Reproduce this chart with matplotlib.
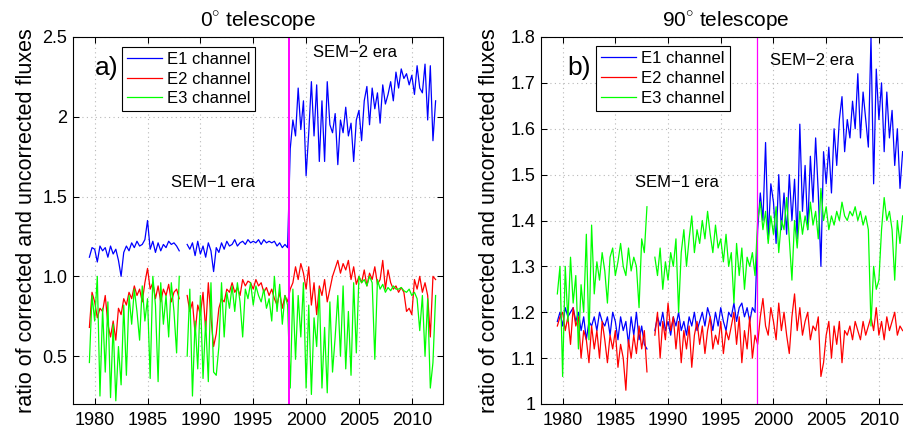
import numpy as np
import matplotlib
matplotlib.use('Agg')
import matplotlib.pyplot as plt

plt.rcParams['font.family'] = ['Liberation Sans', 'DejaVu Sans']
plt.rcParams['mathtext.fontset'] = 'custom'
plt.rcParams['mathtext.rm'] = 'Liberation Sans'

nan = np.nan

# quarterly samples, 1979.5 ... 2012.25
t = 1979.5 + 0.25 * np.arange(132)
era_change = 1998.4

# ---------------- 0 deg telescope ----------------
e1_0 = [1.12, 1.18,
        1.17, 1.09, 1.19, 1.16,
        1.18, 1.12, 1.19, 1.14,
        1.17, 1.10, 1.00, 1.15,
        1.19, 1.16, 1.21, 1.18,
        1.22, 1.19, 1.20, 1.23,
        1.35, 1.17, 1.22, 1.15,
        1.21, 1.16, 1.20, 1.18,
        1.22, 1.20, 1.21, 1.19,
        1.16, nan, nan, 1.20,
        1.17, 1.21, 1.13, 1.22,
        1.14, 1.19, 1.12, 1.21,
        1.16, 1.03, 1.18, 1.15,
        1.21, 1.17, 1.22, 1.19,
        1.20, 1.23, 1.19, 1.21,
        1.22, 1.20, 1.23, 1.21,
        1.22, 1.21, 1.23, 1.20,
        1.23, 1.21, 1.22, 1.21,
        1.22, 1.19, 1.21, 1.18,
        1.20, 1.18, 1.80, 1.98,
        1.88, 2.18, 1.92, 2.10,
        1.63, 1.90, 2.22, 1.88,
        2.20, 1.72, 2.10, 1.72,
        2.22, 1.95, 1.90, 2.02,
        1.70, 1.98, 1.90, 2.06,
        1.88, 1.96, 1.72, 1.98,
        2.04, 1.85, 2.10, 2.19,
        1.95, 2.18, 2.05, 2.15,
        1.96, 2.20, 2.08, 2.14,
        2.22, 2.10, 2.28, 2.18,
        2.30, 2.24, 2.27, 2.20,
        2.26, 2.14, 2.32, 2.18,
        2.15, 2.33, 1.98, 2.32,
        1.85, 2.10]

e2_0 = [0.68, 0.90,
        0.84, 0.74, 0.80, 0.78,
        0.88, 0.70, 0.62, 0.72,
        0.60, 0.80, 0.76, 0.86,
        0.82, 0.90, 0.86, 0.94,
        0.88, 0.92, 0.84, 0.96,
        1.05, 0.92, 0.96, 0.86,
        0.94, 0.84, 0.92, 0.88,
        0.95, 0.84, 0.90, 0.92,
        0.86, nan, nan, 0.88,
        0.78, 0.84, 0.64, 0.82,
        0.76, 0.90, 0.66, 0.96,
        0.74, 0.56, 0.64, 0.80,
        0.86, 0.84, 0.92, 0.90,
        0.96, 0.90, 0.93, 0.88,
        0.98, 0.94, 0.97, 0.96,
        0.92, 0.98, 0.94, 0.96,
        0.90, 0.93, 0.88, 0.92,
        0.86, 0.82, 0.90, 0.80,
        0.88, 0.84, 0.92, 0.96,
        1.06, 0.98, 1.08, 1.02,
        0.92, 1.06, 0.82, 0.96,
        0.76, 0.94, 0.88, 0.98,
        0.84, 0.92, 1.00, 1.05,
        1.10, 1.02, 1.08, 1.04,
        1.10, 0.98, 1.06, 0.95,
        1.00, 0.96, 1.04, 0.94,
        1.02, 0.98, 1.06, 0.95,
        0.98, 1.10, 0.92, 1.04,
        0.96, 0.92, 0.94, 0.90,
        0.93, 0.90, 0.78, 0.80,
        0.76, 0.98, 0.92, 1.00,
        0.90, 0.96, 0.88, 0.62,
        1.00, 0.98]

e3_0 = [0.46, 0.88,
        0.72, 1.00, 0.25, 0.80,
        0.40, 0.84, 0.24, 0.70,
        0.22, 0.56, 0.32, 0.82,
        0.38, 0.88, 0.70, 0.92,
        0.78, 0.60, 0.94, 0.72,
        0.86, 0.36, 1.00, 0.82,
        0.34, 0.96, 0.70, 0.88,
        0.62, 0.96, 0.78, 0.52,
        1.00, nan, nan, 0.50,
        0.92, 0.25, 0.72, 0.42,
        0.88, 0.36, 0.72, 0.34,
        0.96, 0.40, 0.38, 0.56,
        0.96, 0.62, 0.90, 0.80,
        0.94, 0.78, 0.96, 0.84,
        0.62, 0.92, 0.86, 0.96,
        0.82, 0.94, 0.88, 0.84,
        0.92, 0.80, 0.86, 0.72,
        1.00, 0.78, 0.95, 0.70,
        0.88, 0.82, 0.30, 0.92,
        0.48, 0.88, 0.62, 0.96,
        0.30, 0.82, 0.26, 0.74,
        0.56, 0.92, 0.30, 0.68,
        0.27, 0.84, 0.40, 0.62,
        0.88, 0.50, 0.94, 0.42,
        0.78, 0.38, 0.96, 0.52,
        1.00, 0.96, 0.98, 0.94,
        1.00, 0.96, 0.48, 0.98,
        0.92, 0.95, 0.90, 0.93,
        0.91, 0.94, 0.92, 0.92,
        0.93, 0.91, 0.90, 0.92,
        0.88, 0.90, 0.86, 0.66,
        0.88, 0.50, 0.86, 0.30,
        0.46, 0.88]

# ---------------- 90 deg telescope ----------------
e1_90 = [1.18, 1.20,
         1.17, 1.21, 1.19, 1.20,
         1.21, 1.18, 1.20, 1.16,
         1.19, 1.14, 1.18, 1.17,
         1.19, 1.16, 1.20, 1.18,
         1.17, 1.19, 1.15, 1.20,
         1.18, 1.14, 1.19, 1.16,
         1.18, 1.13, 1.19, 1.15,
         1.20, 1.14, 1.17, 1.13,
         1.12, nan, nan, 1.16,
         1.19, 1.17, 1.20, 1.16,
         1.18, 1.15, 1.19, 1.17,
         1.20, 1.16, 1.18, 1.15,
         1.19, 1.17, 1.20, 1.16,
         1.18, 1.20, 1.17, 1.21,
         1.19, 1.16, 1.20, 1.17,
         1.21, 1.18, 1.16, 1.20,
         1.19, 1.22, 1.18, 1.21,
         1.22, 1.19, 1.21, 1.18,
         1.21, 1.20, 1.38, 1.46,
         1.40, 1.57, 1.36, 1.48,
         1.44, 1.35, 1.50, 1.38,
         1.46, 1.37, 1.50, 1.40,
         1.49, 1.36, 1.61, 1.42,
         1.52, 1.38, 1.54, 1.44,
         1.58, 1.46, 1.30, 1.55,
         1.48, 1.56, 1.46, 1.60,
         1.52, 1.62, 1.67, 1.55,
         1.62, 1.58, 1.66, 1.60,
         1.72, 1.58, 1.68, 1.62,
         1.56, 1.80, 1.48, 1.73,
         1.62, 1.70, 1.55, 1.68,
         1.58, 1.64, 1.52, 1.60,
         1.47, 1.55]

e2_90 = [1.17, 1.19,
         1.20, 1.16, 1.19, 1.13,
         1.21, 1.17, 1.19, 1.10,
         1.16, 1.14, 1.09, 1.17,
         1.12, 1.16, 1.10, 1.18,
         1.14, 1.09, 1.15, 1.12,
         1.16, 1.08, 1.13, 1.10,
         1.03, 1.14, 1.10, 1.15,
         1.11, 1.17, 1.12, 1.16,
         1.07, nan, nan, 1.15,
         1.20, 1.10, 1.18, 1.14,
         1.22, 1.16, 1.19, 1.12,
         1.18, 1.09, 1.16, 1.12,
         1.17, 1.08, 1.15, 1.18,
         1.13, 1.17, 1.11, 1.16,
         1.19, 1.12, 1.15, 1.13,
         1.18, 1.11, 1.16, 1.14,
         1.17, 1.20, 1.13, 1.19,
         1.09, 1.16, 1.12, 1.19,
         1.10, 1.15, 1.13, 1.19,
         1.23, 1.17, 1.15, 1.21,
         1.18, 1.14, 1.22, 1.16,
         1.20, 1.15, 1.11, 1.19,
         1.24, 1.16, 1.21, 1.15,
         1.18, 1.20, 1.14, 1.17,
         1.16, 1.19, 1.06, 1.09,
         1.15, 1.18, 1.10, 1.17,
         1.13, 1.18, 1.09, 1.16,
         1.15, 1.17, 1.14, 1.18,
         1.16, 1.14, 1.18, 1.15,
         1.17, 1.19, 1.16, 1.21,
         1.15, 1.18, 1.14, 1.19,
         1.16, 1.18, 1.20, 1.15,
         1.17, 1.16]

e3_90 = [1.24, 1.30,
         1.06, 1.30, 1.18, 1.32,
         1.22, 1.28, 1.12, 1.26,
         1.20, 1.37, 1.14, 1.39,
         1.24, 1.31, 1.27, 1.33,
         1.29, 1.22, 1.32, 1.34,
         1.28, 1.31, 1.35, 1.30,
         1.28, 1.34, 1.29, 1.32,
         1.30, 1.21, 1.36, 1.33,
         1.43, nan, nan, 1.32,
         1.28, 1.34, 1.25, 1.31,
         1.27, 1.33, 1.30, 1.36,
         1.20, 1.33, 1.38, 1.30,
         1.36, 1.41, 1.33, 1.38,
         1.35, 1.40, 1.36, 1.42,
         1.37, 1.33, 1.39, 1.34,
         1.36, 1.31, 1.37, 1.30,
         1.33, 1.22, 1.35, 1.28,
         1.34, 1.25, 1.32, 1.30,
         1.33, 1.28, 1.40, 1.44,
         1.38, 1.42, 1.35, 1.41,
         1.37, 1.43, 1.33, 1.40,
         1.38, 1.45, 1.36, 1.27,
         1.40, 1.34, 1.42, 1.37,
         1.41, 1.38, 1.44, 1.39,
         1.42, 1.36, 1.47, 1.40,
         1.43, 1.38, 1.41, 1.39,
         1.42, 1.40, 1.44, 1.41,
         1.40, 1.42, 1.41, 1.43,
         1.40, 1.42, 1.39, 1.41,
         1.38, 1.17, 1.30, 1.25,
         1.27, 1.38, 1.45, 1.40,
         1.42, 1.38, 1.27, 1.40,
         1.35, 1.41]

labels = ['E1 channel', 'E2 channel', 'E3 channel']
colors = ['#0000ff', '#ff0000', '#00ff00']

W, H = 904, 430
fig = plt.figure(figsize=(W / 100, H / 100), dpi=100)

# axes boxes in pixels: left, bottom(from top), width, height
ax_a = fig.add_axes([73 / W, (H - 404) / H, 370 / W, 367 / H])
ax_b = fig.add_axes([541 / W, (H - 404) / H, 369 / W, 367 / H])


def style_axes(ax, ylim, yticks, yticklabels):
    ax.set_xlim(1977.95, 2012.95)
    ax.set_ylim(*ylim)
    ax.set_xticks([1980, 1985, 1990, 1995, 2000, 2005, 2010])
    ax.set_yticks(yticks)
    ax.set_yticklabels(yticklabels)
    ax.tick_params(direction='in', top=True, right=True, length=4,
                   width=0.75, labelsize=13, pad=4)
    ax.tick_params(axis='x', pad=6)
    ax.grid(True, linestyle=(0, (1, 3)), color='#b8b8b8', linewidth=0.8)
    for s in ax.spines.values():
        s.set_linewidth(0.8)


# ---------------- panel a ----------------
for y, lab, c in zip([e1_0, e2_0, e3_0], labels, colors):
    ax_a.plot(t, y, color=c, linewidth=0.9, label=lab)
ax_a.axvline(era_change, color='#ff00ff', linewidth=1.4)
style_axes(ax_a, (0.2, 2.5), [0.5, 1.0, 1.5, 2.0, 2.5],
           ['0.5', '1.0', '1.5', '2', '2.5'])
ax_a.set_title(r'0$^{\circ}$ telescope', fontsize=15, pad=7)
ax_a.set_ylabel('ratio of corrected and uncorrected fluxes', fontsize=15.5)
ax_a.yaxis.set_label_coords(-0.097, 0.5)
ax_a.text(1991.2, 1.59, 'SEM\u22121 era', fontsize=12, ha='center', va='center')
ax_a.text(2004.6, 2.40, 'SEM\u22122 era', fontsize=12, ha='center', va='center')
ax_a.text(0.06, 0.915, 'a)', transform=ax_a.transAxes, fontsize=19,
          ha='left', va='center')
leg = ax_a.legend(loc='upper left', bbox_to_anchor=(0.132, 0.973),
                  borderaxespad=0, fontsize=12, handlelength=2.1,
                  handletextpad=0.3, labelspacing=0.28, borderpad=0.3,
                  fancybox=False, edgecolor='black', framealpha=1)
leg.get_frame().set_linewidth(0.8)

# ---------------- panel b ----------------
for y, lab, c in zip([e1_90, e2_90, e3_90], labels, colors):
    ax_b.plot(t, y, color=c, linewidth=0.9, label=lab)
ax_b.axvline(era_change, color='#ff00ff', linewidth=0.9)
style_axes(ax_b, (1.0, 1.8), [1.0, 1.1, 1.2, 1.3, 1.4, 1.5, 1.6, 1.7, 1.8],
           ['1', '1.1', '1.2', '1.3', '1.4', '1.5', '1.6', '1.7', '1.8'])
ax_b.set_title(r'90$^{\circ}$ telescope', fontsize=15, pad=7)
ax_b.set_ylabel('ratio of corrected and uncorrected fluxes', fontsize=15.5)
ax_b.yaxis.set_label_coords(-0.111, 0.5)
ax_b.text(1990.8, 1.482, 'SEM\u22121 era', fontsize=12, ha='center', va='center')
ax_b.text(2003.7, 1.748, 'SEM\u22122 era', fontsize=12, ha='center', va='center')
ax_b.text(0.07, 0.915, 'b)', transform=ax_b.transAxes, fontsize=19,
          ha='left', va='center')
leg = ax_b.legend(loc='upper left', bbox_to_anchor=(0.149, 0.975),
                  borderaxespad=0, fontsize=12, handlelength=2.1,
                  handletextpad=0.3, labelspacing=0.28, borderpad=0.3,
                  fancybox=False, edgecolor='black', framealpha=1)
leg.get_frame().set_linewidth(0.8)

fig.savefig('out.png', dpi=100)
